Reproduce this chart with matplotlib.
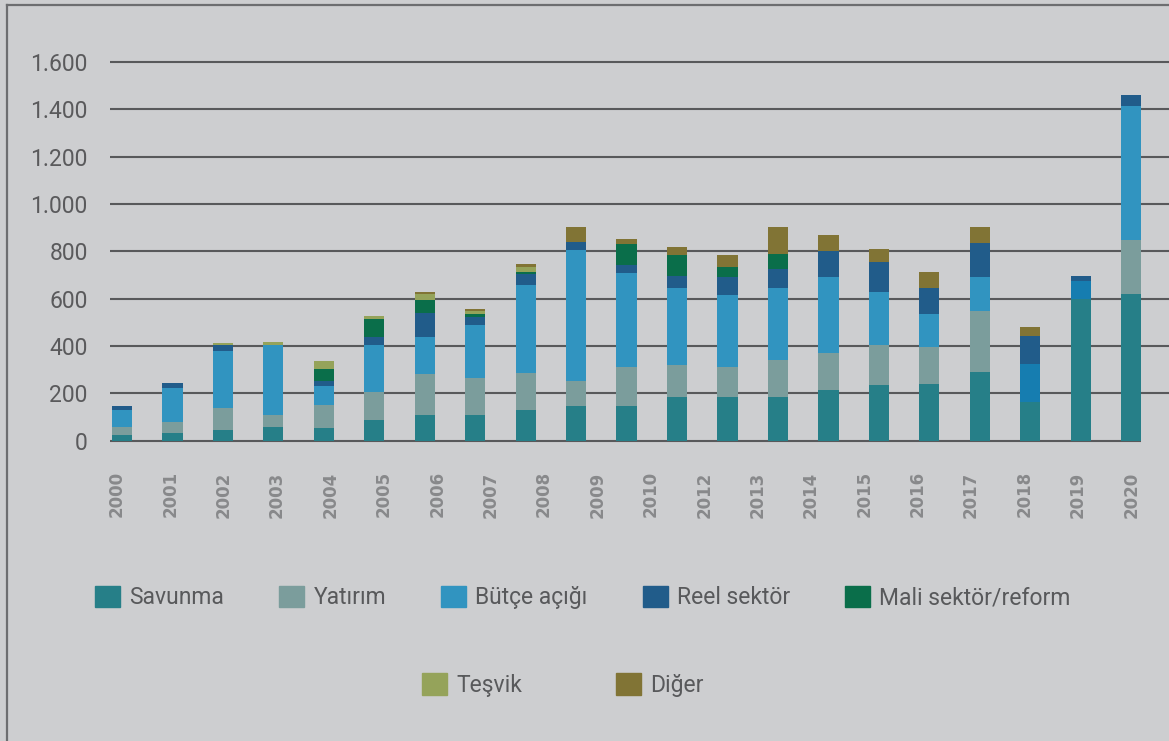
import numpy as np
import matplotlib
matplotlib.use("Agg")
import matplotlib.pyplot as plt
from matplotlib.lines import Line2D

# yıllara göre dağılım (21 sütun, eksende 20 etiket)
years = ['2000', '2001', '2002', '2003', '2004', '2005', '2006', '2007', '2008', '2009',
         '2010', '2012', '2013', '2014', '2015', '2016', '2017', '2018', '2019', '2020']
n_bars = 21

savunma = [22, 34, 46, 58, 54, 89, 109, 109, 128, 148, 145, 184, 184, 184, 216, 236, 238, 289, 162, 597, 619]
yatirim = [36, 47, 94, 51, 97, 118, 173, 155, 158, 104, 166, 135, 127, 157, 156, 167, 158, 261, 0, 0, 229]
butce = [70, 140, 241, 294, 79, 196, 157, 223, 372, 555, 398, 327, 303, 305, 318, 227, 141, 140, 161, 77, 564]
reel = [20, 22, 22, 0, 24, 36, 99, 36, 46, 32, 35, 50, 76, 80, 113, 123, 109, 145, 118, 20, 50]
mali = [0, 0, 0, 0, 47, 75, 56, 13, 9, 0, 87, 87, 42, 61, 0, 0, 0, 0, 0, 0, 0]
tesvik = [0, 0, 9, 13, 37, 13, 25, 13, 20, 0, 0, 0, 0, 0, 0, 0, 0, 0, 0, 0, 0]
diger = [0, 0, 0, 0, 0, 0, 11, 9, 12, 64, 20, 36, 51, 116, 68, 55, 67, 68, 40, 0, 0]

series = [
    ('Savunma', savunma, '#267F88'),
    ('Yatırım', yatirim, '#7B9D9C'),
    ('Bütçe açığı', butce, '#3194C0'),
    ('Reel sektör', reel, '#215C8A'),
    ('Mali sektör/reform', mali, '#0A6E4A'),
    ('Teşvik', tesvik, '#95A35A'),
    ('Diğer', diger, '#817435'),
]

bg = '#CDCED0'

fig = plt.figure(figsize=(11.69, 7.41), dpi=100, facecolor=bg)
ax = fig.add_axes([110 / 1169, 1 - 440.7 / 741, 1 - 110 / 1169, (440.7 - 62) / 741])
ax.set_facecolor(bg)

x = np.arange(n_bars)
width = 0.4
bottom = np.zeros(n_bars)
handles = []
for name, vals, color in series:
    vals = np.array(vals, dtype=float)
    colors = [color] * n_bars
    if name == 'Bütçe açığı':
        # 2018-2019 biraz daha koyu mavi
        colors[18] = colors[19] = '#167DB0'
    ax.bar(x, vals, width, bottom=bottom, color=colors, zorder=3)
    bottom += vals
    handles.append(plt.Rectangle((0, 0), 1, 1, color=color, label=name))

ax.set_xlim(-0.238, 20.75)
ax.set_ylim(0, 1600)

# yatay çizgiler, sıfır çizgisi son sütunda biter
yticks = np.arange(0, 1601, 200)
for t in yticks:
    xmax = x[-1] + width / 2 if t == 0 else ax.get_xlim()[1]
    ax.hlines(t, ax.get_xlim()[0], xmax, color='#58595B', lw=1.5, zorder=2, clip_on=False)

ax.set_yticks(yticks)
ax.set_yticklabels([f'{t:,}'.replace(',', '.') for t in yticks],
                   fontfamily='Roboto', fontsize=16.5, color='#5A5A5C')
ax.tick_params(axis='y', length=0, pad=16)

ax.set_xticks(np.linspace(-0.1, 20, len(years)))
ax.set_xticklabels(years, rotation=90, fontfamily=['DejaVu Sans Condensed', 'DejaVu Sans'],
                   fontweight='bold', fontsize=12, color='#88898B')
ax.tick_params(axis='x', length=0, pad=22)

for s in ax.spines.values():
    s.set_visible(False)

# lejant: üst satırda 5, alt satırda 2 kalem
leg_kw = dict(frameon=False, prop={'family': 'Roboto', 'size': 16.5}, labelcolor='#58595B',
              handlelength=1.09, handleheight=1.09, handletextpad=0.4, loc='center')
fig.legend(handles=handles[:5], ncol=5, columnspacing=2.4,
           bbox_to_anchor=(0.4987, 0.1937), **leg_kw)
fig.legend(handles=handles[5:], ncol=2, columnspacing=4.1,
           bbox_to_anchor=(0.4816, 0.0756), **leg_kw)

# çerçeve (sol ve üst kenar)
fig.add_artist(Line2D([7 / 1169, 7 / 1169], [0, 1 - 4.5 / 741], transform=fig.transFigure,
                      color='#6D6E70', lw=1.6))
fig.add_artist(Line2D([7 / 1169, 1], [1 - 4.5 / 741, 1 - 4.5 / 741], transform=fig.transFigure,
                      color='#6D6E70', lw=1.6))

fig.savefig('out.png', dpi=100, facecolor=bg)
